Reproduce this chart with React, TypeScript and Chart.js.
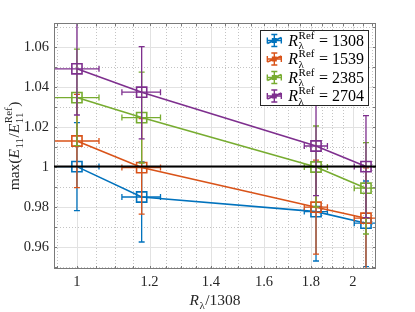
import React, { useEffect, useRef } from 'react';
import { Chart, registerables } from 'chart.js';

Chart.register(...registerables);

// ---- data ----
const X_RATIO = [1, 1.1766, 1.8234, 2.0673];
const X_ERR = [0.057, 0.057, 0.053, 0.06];

const SERIES_NAMES = ['1308', '1539', '2385', '2704'];
const SERIES_COLORS = ['#0072BD', '#D95319', '#77AC30', '#7E2F8E'];

const Y_1308 = [1.0, 0.9848, 0.9775, 0.9717];
const LO_1308 = [0.022, 0.0225, 0.0247, 0.0217];
const HI_1308 = [0.022, 0.0175, 0.0225, 0.0211];

const Y_1539 = [1.0128, 0.9995, 0.9797, 0.9742];
const LO_1539 = [0.0233, 0.0233, 0.0235, 0.0252];
const HI_1539 = [0.0233, 0.0245, 0.0235, 0.0252];

const Y_2385 = [1.0345, 1.0245, 0.9998, 0.9892];
const LO_2385 = [0.024, 0.0227, 0.02, 0.0229];
const HI_2385 = [0.0242, 0.0227, 0.0205, 0.0228];

const Y_2704 = [1.0489, 1.0372, 1.0103, 1.0];
const LO_2704 = [0.0231, 0.0233, 0.0248, 0.0255];
const HI_2704 = [0.0232, 0.0228, 0.025, 0.0255];

const X_TICKS = [1, 1.2, 1.4, 1.6, 1.8, 2];
const X_TICK_LABELS = ['1', '1.2', '1.4', '1.6', '1.8', '2'];
const X_MINOR = [0.95, 1.05, 1.1, 1.15, 1.25, 1.3, 1.35, 1.45, 1.5, 1.55, 1.65, 1.7, 1.75, 1.85, 1.9, 1.95, 2.05, 2.1];
const Y_TICKS = [0.96, 0.98, 1, 1.02, 1.04, 1.06];
const Y_TICK_LABELS = ['0.96', '0.98', '1', '1.02', '1.04', '1.06'];
const Y_MINOR = [0.95, 0.97, 0.99, 1.01, 1.03, 1.05, 1.07];
const REF_LINE = 1;
const X_MIN = 0.944;
const X_MAX = 2.12;
const Y_MIN = 0.9488;
const Y_MAX = 1.0718;

const SERIES = [
  { y: Y_1308, lo: LO_1308, hi: HI_1308 },
  { y: Y_1539, lo: LO_1539, hi: HI_1539 },
  { y: Y_2385, lo: LO_2385, hi: HI_2385 },
  { y: Y_2704, lo: LO_2704, hi: HI_2704 },
];

// ---- rich text helpers ----
type Part = { t?: string; italic?: boolean; sub?: string; sup?: string };
const FAM = '"Liberation Serif", serif';
const font = (size: number, italic?: boolean) => `${italic ? 'italic ' : ''}${size}px ${FAM}`;

function partsWidth(ctx: CanvasRenderingContext2D, parts: Part[], main: number, script: number) {
  let w = 0;
  for (const p of parts) {
    if (p.t) {
      ctx.font = font(main, p.italic);
      w += ctx.measureText(p.t).width;
    }
    if (p.sub || p.sup) {
      ctx.font = font(script, false);
      const a = p.sub ? ctx.measureText(p.sub).width : 0;
      const b = p.sup ? ctx.measureText(p.sup).width : 0;
      w += Math.max(a, b) + 1;
    }
  }
  return w;
}

function drawParts(ctx: CanvasRenderingContext2D, x: number, y: number, parts: Part[], main: number, script: number) {
  ctx.textBaseline = 'alphabetic';
  ctx.textAlign = 'left';
  const up = main * 0.43;
  const down = main * 0.24;
  for (const p of parts) {
    if (p.t) {
      ctx.font = font(main, p.italic);
      ctx.fillText(p.t, x, y);
      x += ctx.measureText(p.t).width;
    }
    if (p.sub || p.sup) {
      ctx.font = font(script, false);
      let w = 0;
      if (p.sup) {
        ctx.fillText(p.sup, x + 0.5, y - up);
        w = Math.max(w, ctx.measureText(p.sup).width);
      }
      if (p.sub) {
        ctx.fillText(p.sub, x + 0.5, y + down);
        w = Math.max(w, ctx.measureText(p.sub).width);
      }
      x += w + 1;
    }
  }
}

const matlabPlugin = {
  id: 'matlabLook',
  beforeDatasetsDraw(chart: any) {
    const { ctx, chartArea: a, scales } = chart;
    const xs = scales.x, ys = scales.y;
    ctx.save();
    ctx.lineWidth = 1;
    ctx.strokeStyle = '#c4c4c4';
    ctx.setLineDash([1, 2]);
    for (const v of X_MINOR) {
      const px = Math.round(xs.getPixelForValue(v)) + 0.5;
      ctx.beginPath(); ctx.moveTo(px, a.top); ctx.lineTo(px, a.bottom); ctx.stroke();
    }
    for (const v of Y_MINOR) {
      const py = Math.round(ys.getPixelForValue(v)) + 0.5;
      ctx.beginPath(); ctx.moveTo(a.left, py); ctx.lineTo(a.right, py); ctx.stroke();
    }
    ctx.setLineDash([]);
    ctx.strokeStyle = '#e2e2e2';
    for (const v of X_TICKS) {
      const px = Math.round(xs.getPixelForValue(v)) + 0.5;
      ctx.beginPath(); ctx.moveTo(px, a.top); ctx.lineTo(px, a.bottom); ctx.stroke();
    }
    for (const v of Y_TICKS) {
      const py = Math.round(ys.getPixelForValue(v)) + 0.5;
      ctx.beginPath(); ctx.moveTo(a.left, py); ctx.lineTo(a.right, py); ctx.stroke();
    }
    ctx.restore();
  },
  afterDatasetDraw(chart: any, args: any) {
    const s = SERIES[args.index];
    if (!s) return;
    const { ctx, chartArea: a, scales } = chart;
    const xs = scales.x, ys = scales.y;
    const color = SERIES_COLORS[args.index];
    ctx.save();
    ctx.beginPath();
    ctx.rect(a.left, a.top, a.right - a.left, a.bottom - a.top);
    ctx.clip();
    ctx.strokeStyle = color;
    ctx.lineWidth = 1.3;
    const cap = 3;
    for (let i = 0; i < X_RATIO.length; i++) {
      const px = xs.getPixelForValue(X_RATIO[i]);
      const py = ys.getPixelForValue(s.y[i]);
      const yt = ys.getPixelForValue(s.y[i] + s.hi[i]);
      const yb = ys.getPixelForValue(s.y[i] - s.lo[i]);
      const xl = xs.getPixelForValue(X_RATIO[i] - X_ERR[i]);
      const xr = xs.getPixelForValue(X_RATIO[i] + X_ERR[i]);
      ctx.beginPath();
      ctx.moveTo(px, yt); ctx.lineTo(px, yb);
      ctx.moveTo(px - cap, yt); ctx.lineTo(px + cap, yt);
      ctx.moveTo(px - cap, yb); ctx.lineTo(px + cap, yb);
      ctx.moveTo(xl, py); ctx.lineTo(xr, py);
      ctx.moveTo(xl, py - cap); ctx.lineTo(xl, py + cap);
      ctx.moveTo(xr, py - cap); ctx.lineTo(xr, py + cap);
      ctx.stroke();
    }
    ctx.restore();
  },
  afterDatasetsDraw(chart: any) {
    const { ctx, chartArea: a, scales } = chart;
    const xs = scales.x, ys = scales.y;
    ctx.save();
    ctx.strokeStyle = '#7a7a7a';
    ctx.lineWidth = 1;
    ctx.strokeRect(a.left + 0.5, a.top + 0.5, a.right - a.left - 1, a.bottom - a.top - 1);
    const tl = 3;
    ctx.beginPath();
    for (const v of [...X_TICKS, ...X_MINOR]) {
      const px = Math.round(xs.getPixelForValue(v)) + 0.5;
      ctx.moveTo(px, a.bottom); ctx.lineTo(px, a.bottom - tl);
      ctx.moveTo(px, a.top); ctx.lineTo(px, a.top + tl);
    }
    for (const v of [...Y_TICKS, ...Y_MINOR]) {
      const py = Math.round(ys.getPixelForValue(v)) + 0.5;
      ctx.moveTo(a.left, py); ctx.lineTo(a.left + tl, py);
      ctx.moveTo(a.right, py); ctx.lineTo(a.right - tl, py);
    }
    ctx.stroke();
    const ry = ys.getPixelForValue(REF_LINE);
    ctx.strokeStyle = '#000';
    ctx.lineWidth = 2;
    ctx.beginPath(); ctx.moveTo(a.left, ry); ctx.lineTo(a.right, ry); ctx.stroke();
    ctx.restore();
  },
  afterDraw(chart: any) {
    const { ctx, chartArea: a, scales } = chart;
    const xs = scales.x, ys = scales.y;
    ctx.save();
    ctx.fillStyle = '#262626';
    ctx.font = font(14.5);
    ctx.textAlign = 'right';
    ctx.textBaseline = 'middle';
    Y_TICKS.forEach((v, i) => ctx.fillText(Y_TICK_LABELS[i], a.left - 5, ys.getPixelForValue(v) + 1));
    ctx.textAlign = 'center';
    ctx.textBaseline = 'alphabetic';
    X_TICKS.forEach((v, i) => ctx.fillText(X_TICK_LABELS[i], xs.getPixelForValue(v), a.bottom + 17));

    // x label
    const xl: Part[] = [{ t: 'R', italic: true, sub: 'λ' }, { t: '/1308' }];
    const xw = partsWidth(ctx, xl, 15.5, 11);
    const cx = (a.left + a.right) / 2;
    drawParts(ctx, cx - xw / 2, a.bottom + 36, xl, 15.5, 11);

    // y label
    const yl: Part[] = [
      { t: 'max(' }, { t: 'E', italic: true, sub: '11' }, { t: '/' },
      { t: 'E', italic: true, sub: '11', sup: 'Ref' }, { t: ')' },
    ];
    const yw = partsWidth(ctx, yl, 15.5, 11);
    ctx.save();
    ctx.translate(19, (a.top + a.bottom) / 2);
    ctx.rotate(-Math.PI / 2);
    drawParts(ctx, -yw / 2, 0, yl, 15.5, 11);
    ctx.restore();

    // legend
    const LM = 16, LS = 11;
    const rowH = 18.5;
    const entries = SERIES_NAMES.map((n) => [{ t: 'R', italic: true, sub: 'λ', sup: 'Ref' }, { t: ' = ' + n }] as Part[]);
    const tw = Math.max(...entries.map((e) => partsWidth(ctx, e, LM, LS)));
    const boxW = 28 + tw + 4;
    const boxH = rowH * SERIES_NAMES.length + 1;
    const bx = a.right - 8 - boxW;
    const by = a.top + 7;
    ctx.fillStyle = '#fff';
    ctx.fillRect(bx, by, boxW, boxH);
    ctx.strokeStyle = '#262626';
    ctx.lineWidth = 1;
    ctx.strokeRect(Math.round(bx) + 0.5, Math.round(by) + 0.5, Math.round(boxW), Math.round(boxH));
    entries.forEach((e, i) => {
      const cy = by + 10.5 + i * rowH;
      const ix = bx + 14;
      const c = SERIES_COLORS[i];
      ctx.strokeStyle = c;
      ctx.fillStyle = c;
      ctx.lineWidth = 1.4;
      ctx.beginPath();
      ctx.moveTo(ix - 7, cy + 3); ctx.lineTo(ix + 7, cy - 3);
      ctx.moveTo(ix - 7, cy); ctx.lineTo(ix + 7, cy);
      ctx.moveTo(ix, cy - 6); ctx.lineTo(ix, cy + 6);
      ctx.moveTo(ix - 3, cy - 6); ctx.lineTo(ix + 3, cy - 6);
      ctx.moveTo(ix - 3, cy + 6); ctx.lineTo(ix + 3, cy + 6);
      ctx.moveTo(ix - 7, cy - 3); ctx.lineTo(ix - 7, cy + 3);
      ctx.moveTo(ix + 7, cy - 3); ctx.lineTo(ix + 7, cy + 3);
      ctx.stroke();
      ctx.fillRect(ix - 2.5, cy - 2.5, 5, 5);
      ctx.fillStyle = '#000';
      drawParts(ctx, bx + 28, cy + 5, e, LM, LS);
    });
    ctx.restore();
  },
};

export default function App() {
  const ref = useRef<HTMLCanvasElement | null>(null);
  useEffect(() => {
    if (!ref.current) return;
    const chart = new Chart(ref.current, {
      type: 'line',
      data: {
        datasets: SERIES.map((s, i) => ({
          label: 'R = ' + SERIES_NAMES[i],
          data: X_RATIO.map((x, j) => ({ x, y: s.y[j] })),
          borderColor: SERIES_COLORS[i],
          backgroundColor: 'rgba(0,0,0,0)',
          borderWidth: 1.6,
          pointStyle: 'rect',
          pointRadius: 7.2,
          pointBorderWidth: 1.6,
          pointBorderColor: SERIES_COLORS[i],
          pointBackgroundColor: 'rgba(0,0,0,0)',
          tension: 0,
          order: SERIES.length - i,
        })),
      },
      options: {
        responsive: false,
        animation: false,
        events: [],
        layout: { padding: { left: 54, right: 39, top: 23, bottom: 43 } },
        plugins: { legend: { display: false }, tooltip: { enabled: false } },
        scales: {
          x: { type: 'logarithmic', min: X_MIN, max: X_MAX, display: false },
          y: { type: 'linear', min: Y_MIN, max: Y_MAX, display: false },
        },
      },
      plugins: [matlabPlugin],
    });
    return () => chart.destroy();
  }, []);
  return (
    <div style={{ position: 'absolute', left: 0, top: 0, width: 415, height: 312, background: '#fff' }}>
      <canvas ref={ref} width={415} height={312} style={{ display: 'block' }} />
    </div>
  );
}
